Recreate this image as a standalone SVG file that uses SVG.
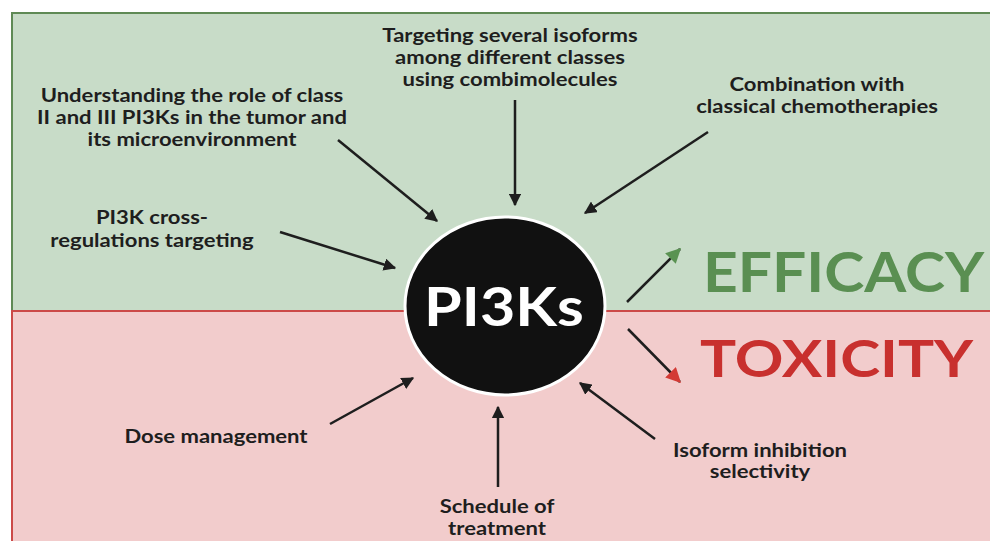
<svg xmlns="http://www.w3.org/2000/svg" width="990" height="541" viewBox="0 0 990 541">
<defs>
<style>
.lbl{font-family:Lato,"Open Sans","Liberation Sans",sans-serif;font-weight:700;font-size:19px;fill:#1e1e1e;text-anchor:middle}
.big{font-family:Lato,"Open Sans","Liberation Sans",sans-serif;font-weight:700}
.conn line{stroke:#1e1e1e;stroke-width:2.5}
</style>
<marker id="ah" viewBox="0 0 10 10" refX="9" refY="5" markerWidth="5" markerHeight="5" markerUnits="strokeWidth" orient="auto">
<path d="M0,0 L10,5 L0,10 z" fill="#1e1e1e"/>
</marker>
<marker id="ahg" viewBox="0 0 10 10" refX="9" refY="5" markerWidth="6" markerHeight="6" markerUnits="strokeWidth" orient="auto">
<path d="M0,0 L10,5 L0,10 z" fill="#5a9252"/>
</marker>
<marker id="ahr" viewBox="0 0 10 10" refX="9" refY="5" markerWidth="6" markerHeight="6" markerUnits="strokeWidth" orient="auto">
<path d="M0,0 L10,5 L0,10 z" fill="#d33a35"/>
</marker>
</defs>
<rect width="990" height="541" fill="#ffffff"/>
<g id="panels">
<rect x="12" y="13" width="990" height="298" fill="#c8dcc8" stroke="#5f8a55" stroke-width="2"/>
<rect x="12" y="311" width="990" height="240" fill="#f2cccc" stroke="#cc4a48" stroke-width="2"/>
</g>
<g id="connectors" class="conn">
<line x1="338" y1="140" x2="437" y2="221" marker-end="url(#ah)"/>
<line x1="280" y1="232" x2="395" y2="268" marker-end="url(#ah)"/>
<line x1="515" y1="100" x2="515" y2="205" marker-end="url(#ah)"/>
<line x1="708" y1="132" x2="585" y2="213" marker-end="url(#ah)"/>
<line x1="330" y1="424" x2="413" y2="378" marker-end="url(#ah)"/>
<line x1="498" y1="487" x2="498" y2="407" marker-end="url(#ah)"/>
<line x1="655" y1="439" x2="580" y2="383" marker-end="url(#ah)"/>
<line x1="627" y1="302" x2="680" y2="249" stroke="#5a9252" stroke-width="2.5" marker-end="url(#ahg)"/>
<line x1="628" y1="329" x2="680" y2="382" stroke="#d33a35" stroke-width="2.5" marker-end="url(#ahr)"/>
</g>
<g id="pi3ks">
<ellipse cx="505" cy="306" rx="100" ry="89" fill="#111111" stroke="#ffffff" stroke-width="3"/>
<text class="big" x="504" y="326" text-anchor="middle" font-size="54" fill="#ffffff" transform="translate(504 0) scale(1.13 1) translate(-504 0)">PI3Ks</text>
</g>
<g id="efficacy">
<text class="big" x="703" y="292" font-size="55" fill="#5a8f52" transform="translate(703 0) scale(1.1 1) translate(-703 0)">EFFICACY</text>
</g>
<g id="toxicity">
<text class="big" x="700" y="377" font-size="52" fill="#c8302e" transform="translate(700 0) scale(1.16 1) translate(-700 0)">TOXICITY</text>
</g>
<g id="targeting" transform="translate(510 0) scale(1.16 1) translate(-510 0)">
<text class="lbl" x="510" y="42">Targeting several isoforms</text>
<text class="lbl" x="510" y="64">among different classes</text>
<text class="lbl" x="510" y="86">using combimolecules</text>
</g>
<g id="understanding" transform="translate(192 0) scale(1.16 1) translate(-192 0)">
<text class="lbl" x="192" y="102">Understanding the role of class</text>
<text class="lbl" x="192" y="124">II and III PI3Ks in the tumor and</text>
<text class="lbl" x="192" y="146">its microenvironment</text>
</g>
<g id="crossreg" transform="translate(152 0) scale(1.16 1) translate(-152 0)">
<text class="lbl" x="152" y="224">PI3K cross-</text>
<text class="lbl" x="152" y="247">regulations targeting</text>
</g>
<g id="combination" transform="translate(817 0) scale(1.16 1) translate(-817 0)">
<text class="lbl" x="817" y="91">Combination with</text>
<text class="lbl" x="817" y="113">classical chemotherapies</text>
</g>
<g id="dose" transform="translate(216 0) scale(1.16 1) translate(-216 0)">
<text class="lbl" x="216" y="443">Dose management</text>
</g>
<g id="schedule" transform="translate(497 0) scale(1.16 1) translate(-497 0)">
<text class="lbl" x="497" y="513">Schedule of</text>
<text class="lbl" x="497" y="535">treatment</text>
</g>
<g id="isoform" transform="translate(760 0) scale(1.16 1) translate(-760 0)">
<text class="lbl" x="760" y="457">Isoform inhibition</text>
<text class="lbl" x="760" y="478">selectivity</text>
</g>
</svg>
